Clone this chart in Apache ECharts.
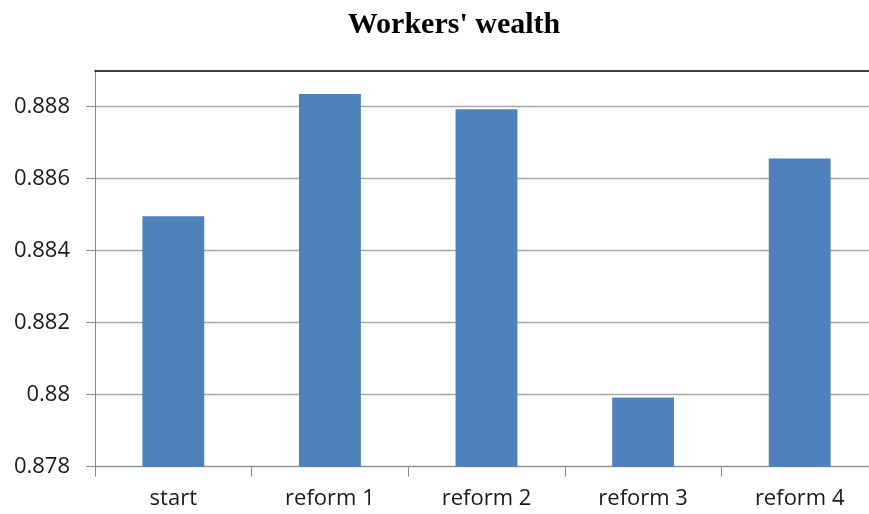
<!DOCTYPE html>
<html>
<head>
<meta charset="utf-8">
<script src="https://cdn.jsdelivr.net/npm/echarts@6/dist/echarts.min.js"></script>
<style>
  html, body { margin: 0; padding: 0; background: #ffffff; overflow: hidden; }
  /* canvas is a little wider than the window so the plot runs off the right edge */
  #chart { width: 878px; height: 514px; }
</style>
</head>
<body>
<div id="chart"></div>
<script>
// Workers' wealth under each scenario
const categories = ['start', 'reform 1', 'reform 2', 'reform 3', 'reform 4'];
const wealth = [0.88495, 0.88834, 0.88792, 0.87992, 0.88655];
const yTicks = [0.878, 0.88, 0.882, 0.884, 0.886, 0.888];
const yMin = 0.878;
const yMax = 0.889;

const chart = echarts.init(document.getElementById('chart'), null, { renderer: 'canvas' });

const labelFont = '"Open Sans", "Noto Sans", sans-serif';

chart.setOption({
  animation: false,
  backgroundColor: '#ffffff',
  title: {
    text: "Workers' wealth",
    left: 449,
    top: 5,
    textAlign: 'center',
    textStyle: {
      fontFamily: '"Liberation Serif", "Times New Roman", serif',
      fontWeight: 'bold',
      fontSize: 30,
      color: '#000000'
    }
  },
  grid: { left: 95, top: 70.3, height: 396.4, right: 0, containLabel: false },
  xAxis: [
    {
      type: 'category',
      data: categories,
      position: 'bottom',
      boundaryGap: true,
      axisLine: { lineStyle: { color: '#8c8c8c', width: 1 } },
      axisTick: { show: true, length: 10, lineStyle: { color: '#8c8c8c' } },
      axisLabel: {
        margin: 21,
        fontFamily: labelFont,
        fontSize: 22,
        color: '#1a1a1a'
      }
    },
    {
      // black frame line along the top of the plot area
      type: 'category',
      data: categories,
      position: 'top',
      axisLine: { lineStyle: { color: '#000000', width: 1.5 } },
      axisTick: { show: false },
      axisLabel: { show: false }
    }
  ],
  yAxis: {
    type: 'value',
    min: yMin,
    max: yMax,
    axisLine: { show: true, lineStyle: { color: '#8c8c8c', width: 1 } },
    axisTick: {
      show: true,
      length: 9,
      customValues: yTicks,
      lineStyle: { color: '#8c8c8c' }
    },
    splitLine: { show: true, lineStyle: { color: '#a6a6a6', width: 1.3 } },
    axisLabel: {
      customValues: yTicks,
      margin: 25,
      fontFamily: labelFont,
      fontSize: 22,
      color: '#1a1a1a'
    }
  },
  series: [
    {
      type: 'bar',
      data: wealth,
      xAxisIndex: 0,
      barWidth: '39.5%',
      itemStyle: { color: '#4f81bd' }
    }
  ]
});
</script>
</body>
</html>
